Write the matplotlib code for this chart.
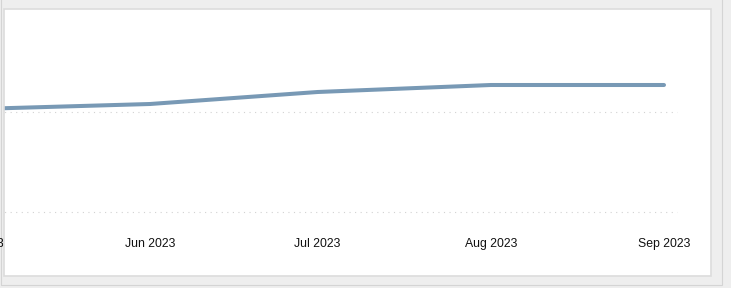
import matplotlib
matplotlib.use('Agg')
import matplotlib.pyplot as plt
import matplotlib.dates as mdates
from matplotlib.patches import Rectangle
from datetime import datetime

W, H = 731, 288

# monthly values
MONTHS = [datetime(2023, 5, 1), datetime(2023, 6, 1), datetime(2023, 7, 1),
          datetime(2023, 8, 1), datetime(2023, 9, 1)]
VALUES = [1.03, 1.08, 1.20, 1.27, 1.27]
TICK_DATES = MONTHS
TICK_LABELS = ['May 2023', 'Jun 2023', 'Jul 2023', 'Aug 2023', 'Sep 2023']

LINE_COLOR = '#7899b5'
BG = '#eeeeee'


def px_rect(x0, y0, x1, y1, **kw):
    """Rectangle in figure fractions from pixel corners (top-left origin)."""
    return Rectangle((x0 / W, 1 - y1 / H), (x1 - x0) / W, (y1 - y0) / H,
                     transform=fig.transFigure, **kw)


fig = plt.figure(figsize=(W / 100, H / 100), dpi=100)
fig.patch.set_facecolor(BG)

# outer frame and white panel
fig.add_artist(px_rect(1, -2, 722, 285, facecolor='none',
                       edgecolor='#d4d4d4', linewidth=0.8, zorder=-2))
fig.add_artist(px_rect(3.5, 9, 711, 276, facecolor='white',
                       edgecolor='none', zorder=-1))
clip_box = px_rect(4, 9, 711, 276, facecolor='none', edgecolor='none')

# plot area: bottom gridline at y=212, right end at x=677
left_px, right_px, top_px, bot_px = -30, 677, 12, 214
ax = fig.add_axes([left_px / W, 1 - bot_px / H,
                   (right_px - left_px) / W, (bot_px - top_px) / H])
ax.set_facecolor('none')

line, = ax.plot(MONTHS, VALUES, color=LINE_COLOR, linewidth=2.9,
                solid_capstyle='round', zorder=3)
line.set_clip_path(clip_box)

# x range so that Jun 1 -> x=150 and Sep 1 -> x=664
px_per_day = (664 - 150) / 92.0
x0 = mdates.date2num(datetime(2023, 6, 1)) - (150 - left_px) / px_per_day
x1 = mdates.date2num(datetime(2023, 6, 1)) + (right_px - 150) / px_per_day
ax.set_xlim(x0, x1)
ax.set_ylim(-0.02, 2)

ax.set_xticks(TICK_DATES)
ax.set_xticklabels(TICK_LABELS)
ax.set_yticks([0, 1])
ax.set_yticklabels([])
ax.tick_params(axis='x', length=0, pad=17, labelsize=8.8, labelcolor='#111111')
ax.tick_params(axis='y', length=0)
for lab in ax.get_xticklabels():
    lab.set_family(['Liberation Sans', 'DejaVu Sans'])

ax.yaxis.grid(True, color='#d2d2d2', linewidth=0.8, linestyle=(0, (1, 4)))
ax.xaxis.grid(False)
for gl in ax.get_ygridlines():
    gl.set_clip_path(clip_box)
for s in ax.spines.values():
    s.set_visible(False)

# panel border drawn on top
fig.add_artist(px_rect(3.5, 9, 711, 276, facecolor='none',
                       edgecolor='#dcdcdc', linewidth=1.2, zorder=6))

fig.savefig('out.png', dpi=100, facecolor=BG)
